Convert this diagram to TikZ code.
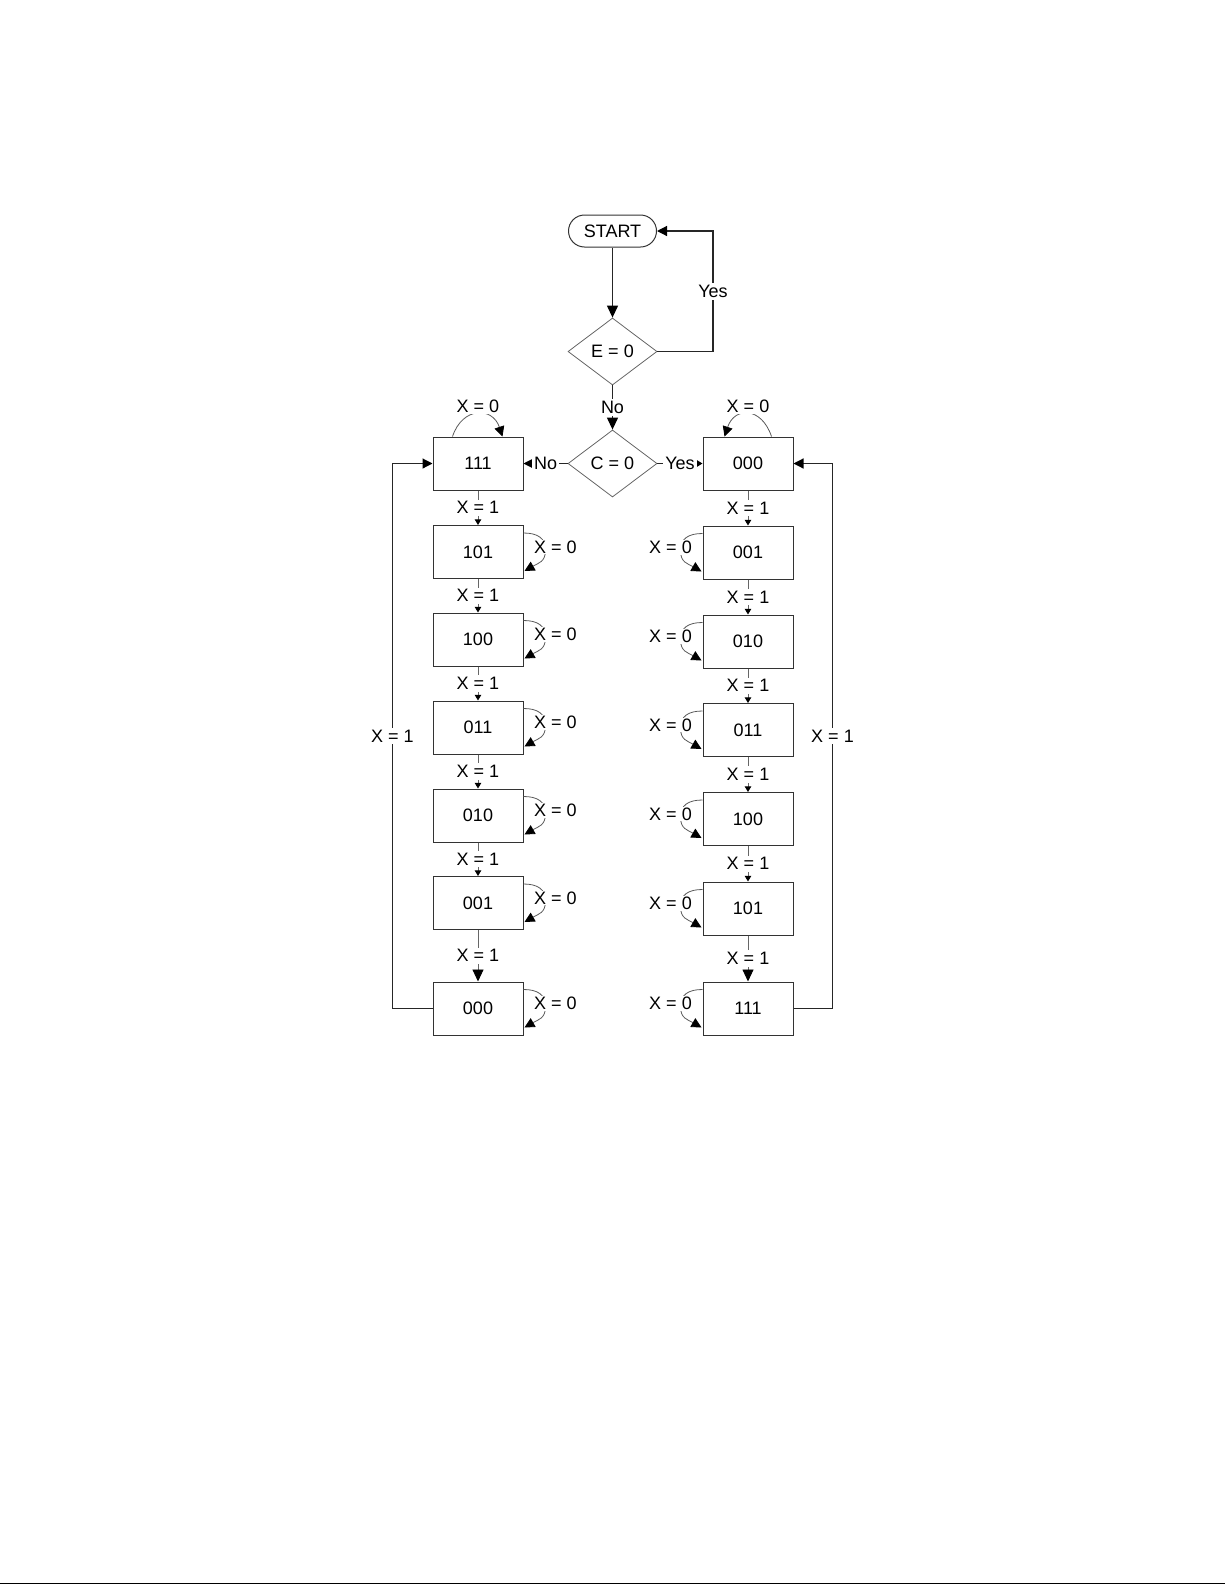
\documentclass[tikz,border=0pt]{standalone}
\usepackage{fontspec}
\setmainfont{Liberation Sans}
\usetikzlibrary{shapes.geometric,arrows.meta,calc}
\begin{document}
\begin{tikzpicture}[x=0.5pt,y=-0.5pt,
  font=\fontsize{9}{10.5}\selectfont,
  box/.style={draw=black!80,line width=0.5pt,minimum width=45pt,minimum height=26.5pt,inner sep=0pt,fill=white},
  dia/.style={diamond,draw=black!60,line width=0.4pt,minimum width=44.5pt,minimum height=33.5pt,inner sep=0pt,shape aspect=1.33},
  term/.style={draw=black!80,line width=0.5pt,rounded corners=8pt,minimum width=44pt,minimum height=16pt,inner sep=0pt},
  edge/.style={draw=black!85,line width=0.6pt},
  thin/.style={draw=black!60,line width=0.45pt},
  loopln/.style={draw=black!65,line width=0.4pt},
  bigtip/.style={-{Triangle[length=6pt,width=5.5pt,color=black]}},
  midtip/.style={-{Triangle[length=5pt,width=5pt,color=black]}},
  smalltip/.style={-{Triangle[length=2.8pt,width=3.2pt,color=black]}},
  lbl/.style={fill=white,inner sep=1pt}]
\useasboundingbox (0,0) rectangle (1225,1585);
\draw[line width=0.8pt] (0,1583.5) -- (1225,1583.5);

% top
\node[term] (start) at (612.5,231) {START};
\node[dia] (e) at (612.5,351.5) {E = 0};
\node[dia] (c) at (612.5,463.5) {C = 0};
\coordinate (yk) at (713,351.5);

% left column
\node[box] (L1) at (478,463.5) {111};
\node[box] (L2) at (478,552) {101};
\node[box] (L3) at (478,639.5) {100};
\node[box] (L4) at (478,727.5) {011};
\node[box] (L5) at (478,815.5) {010};
\node[box] (L6) at (478,903) {001};
\node[box] (L7) at (478,1008.5) {000};

% right column
\node[box] (R1) at (748,463.5) {000};
\node[box] (R2) at (748,552.5) {001};
\node[box] (R3) at (748,641.5) {010};
\node[box] (R4) at (748,730) {011};
\node[box] (R5) at (748,819) {100};
\node[box] (R6) at (748,908.5) {101};
\node[box] (R7) at (748,1008.5) {111};

% main connectors
\draw[edge,bigtip] (start) -- (e);
\draw[edge,bigtip] (e) -- node[lbl]{No} (c);
\draw[edge,midtip] (e.east) -- (yk) |- node[lbl,pos=0.25]{Yes} (start.east);
\draw[edge,midtip] (c) -- node[lbl]{No} (L1);
\draw[edge,smalltip] (c) -- node[lbl]{Yes} (R1);

% column links
\foreach \a/\b in {L1/L2,L2/L3,L3/L4,L4/L5,L5/L6,R1/R2,R2/R3,R3/R4,R4/R5,R5/R6}
  \draw[thin,smalltip] (\a) -- node[lbl]{X = 1} (\b);
\draw[thin,bigtip] (L6) -- node[lbl]{X = 1} (L7);
\draw[thin,bigtip] (R6) -- node[lbl]{X = 1} (R7);

% outer loops
\draw[edge,midtip] (L7.west) -- ++(-40,0) |- node[lbl,pos=0.25]{X = 1} (L1.west);
\draw[edge,midtip] (R7.east) -- ++(39,0) |- node[lbl,pos=0.25]{X = 1} (R1.east);

% top self-loops
\draw[loopln,midtip] ($(L1.north west)+(20,0)$) .. controls +(10,-30) and +(-10,-30) .. ($(L1.north west)+(70,0)$);
\node[lbl] (l1x) at (478,406) {X = 0};
\draw[loopln,midtip] ($(R1.north west)+(69,0)$) .. controls +(-10,-30) and +(10,-30) .. ($(R1.north west)+(22,0)$);
\node[lbl] (r1x) at (748,406) {X = 0};

% side self-loops, left
\foreach \n in {L2,L3,L4,L5,L6,L7} {
  \draw[loopln,midtip] ($(\n.north east)+(0,8)$) .. controls +(14,0) and +(0,-12) .. ($(\n.east)+(22,-2)$)
     .. controls +(0,12) and +(14,-8) .. ($(\n.south east)+(1,-8)$);
  \node[lbl,inner sep=0.5pt] (\n x) at ($(\n.east)+(32,-5)$) {X = 0};
}
% side self-loops, right
\foreach \n in {R2,R3,R4,R5,R6,R7} {
  \draw[loopln,midtip] ($(\n.north west)+(0,8)$) .. controls +(-14,0) and +(0,-12) .. ($(\n.west)+(-22,-2)$)
     .. controls +(0,12) and +(-14,-8) .. ($(\n.south west)+(-1,-8)$);
  \node[lbl,inner sep=0.5pt] (\n x) at ($(\n.west)+(-32,-5)$) {X = 0};
}
\end{tikzpicture}
\end{document}
